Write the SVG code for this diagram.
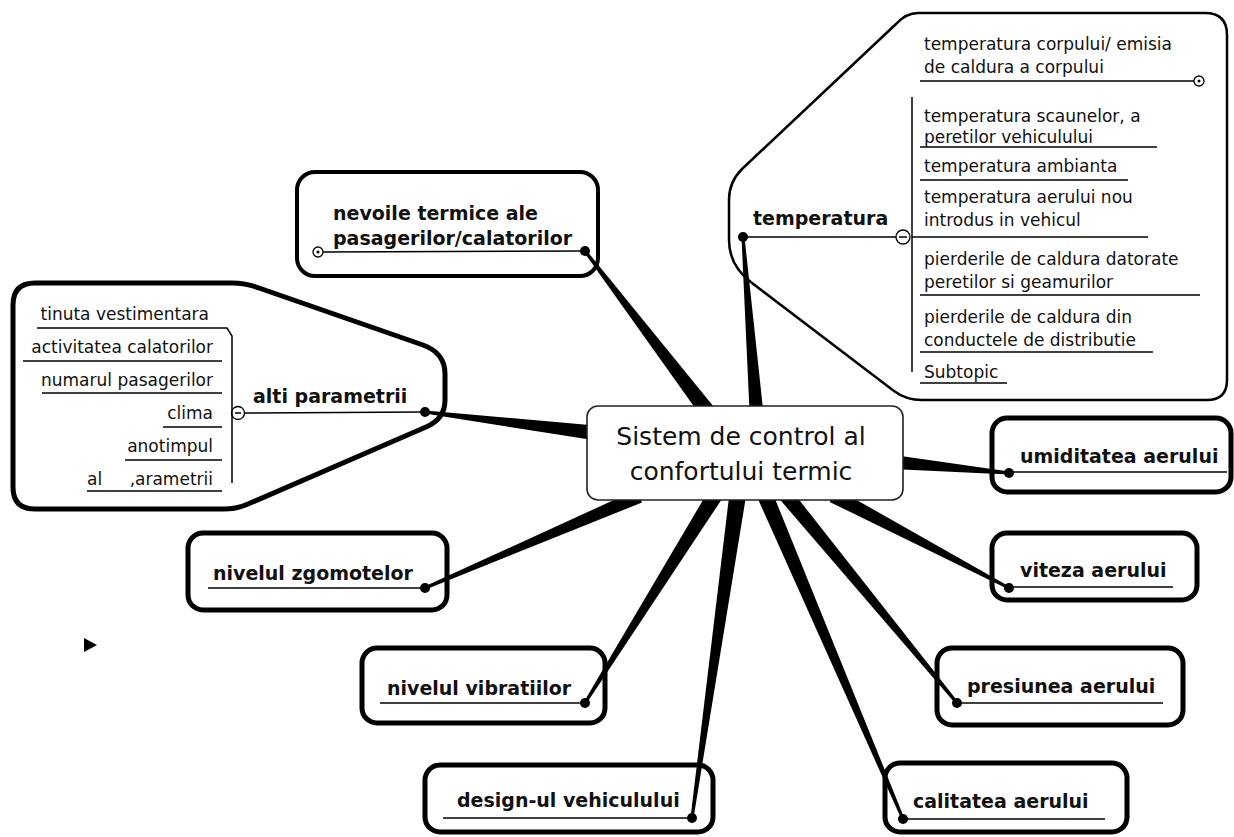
<svg xmlns="http://www.w3.org/2000/svg" width="1234" height="837" viewBox="0 0 1234 837">
<style>
.lbl{font-family:"DejaVu Sans",sans-serif;font-weight:bold;font-size:19px;fill:#111}
.sub{font-family:"DejaVu Sans",sans-serif;font-size:17px;fill:#111}
.ctr{font-family:"DejaVu Sans",sans-serif;font-size:25px;fill:#111;text-anchor:middle}
.box{fill:none;stroke:#000;stroke-width:5}
.thin{fill:none;stroke:#000;stroke-width:2.5}
.ul{stroke:#000;stroke-width:1.5;fill:none}
.wedge{fill:#000}
.dot{fill:#000}
.tog{fill:#fff;stroke:#000;stroke-width:1.3}
</style>
<rect width="1234" height="837" fill="#fff"/>

<g id="connectors">
<polygon class="wedge" points="716.4,410.1 586.2,250.1 583.8,251.9 703.6,419.9"/>
<polygon class="wedge" points="763.8,416.5 744.5,236.9 741.5,237.1 749.8,417.5"/>
<polygon class="wedge" points="597.8,425.8 425.2,410.5 424.8,413.5 596.0,440.6"/>
<polygon class="wedge" points="892.3,469.1 1008.9,474.5 1009.1,471.5 893.7,455.1"/>
<polygon class="wedge" points="829.7,501.9 1008.3,589.3 1009.7,586.7 836.7,488.7"/>
<polygon class="wedge" points="777.8,497.1 955.8,704.0 958.2,702.0 789.4,487.5"/>
<polygon class="wedge" points="755.7,493.9 901.6,819.6 904.4,818.4 770.5,487.7"/>
<polygon class="wedge" points="730,488.9 690.5,817.8 693.5,818.2 746.8,491.3"/>
<polygon class="wedge" points="710.5,487.3 583.7,702.2 586.3,703.8 724.1,495.7"/>
<polygon class="wedge" points="636.4,489.7 424.4,586.6 425.6,589.4 642,502.5"/>
<circle class="dot" cx="585" cy="251" r="5"/>
<circle class="dot" cx="743" cy="237" r="5"/>
<circle class="dot" cx="425" cy="412" r="5"/>
<circle class="dot" cx="1009" cy="473" r="5"/>
<circle class="dot" cx="1009" cy="588" r="5"/>
<circle class="dot" cx="957" cy="703" r="5"/>
<circle class="dot" cx="903" cy="819" r="5"/>
<circle class="dot" cx="692" cy="818" r="5"/>
<circle class="dot" cx="585" cy="703" r="5"/>
<circle class="dot" cx="425" cy="588" r="5"/>
</g>

<g id="center">
<rect x="587" y="406" width="316" height="94" rx="11" fill="#fff" stroke="#222" stroke-width="1.6"/>
<text class="ctr" x="741" y="445">Sistem de control al</text>
<text class="ctr" x="741" y="480">confortului termic</text>
</g>

<g id="node-nevoile">
<rect x="297" y="172" width="301" height="104" rx="18" fill="none" stroke="#000" stroke-width="4"/>
<text class="lbl" x="333" y="220">nevoile termice ale</text>
<text class="lbl" x="333" y="245">pasagerilor/calatorilor</text>
<line class="ul" x1="323" y1="252" x2="585" y2="251"/>
<circle class="tog" cx="318" cy="252" r="5"/>
<circle class="dot" cx="318" cy="252" r="1.5"/>
</g>

<g id="node-temperatura">
<path class="thin" d="M918,13 L1205,13 Q1227,13 1227,35 L1227,380 Q1227,400 1207,400 L922,400 Q906,400 894,391 L752,283 Q729,266 729,240 L729,200 Q729,182 742,169 L896,24 Q906,13 918,13 Z"/>
<text class="lbl" x="753" y="225">temperatura</text>
<line class="ul" x1="743" y1="237" x2="896" y2="237"/>
<circle class="tog" cx="903" cy="237" r="7"/>
<line class="ul" x1="899" y1="237" x2="907" y2="237"/>
<line class="ul" x1="912" y1="97" x2="912" y2="372"/>
<text class="sub" x="924" y="50">temperatura corpului/ emisia</text>
<text class="sub" x="924" y="73">de caldura a corpului</text>
<line class="ul" x1="920" y1="81" x2="1194" y2="81"/>
<circle class="tog" cx="1199" cy="81" r="5"/>
<circle class="dot" cx="1199" cy="81" r="1.5"/>
<text class="sub" x="924" y="122">temperatura scaunelor, a</text>
<text class="sub" x="924" y="143">peretilor vehiculului</text>
<line class="ul" x1="920" y1="147" x2="1157" y2="147"/>
<text class="sub" x="924" y="172">temperatura ambianta</text>
<line class="ul" x1="920" y1="180" x2="1128" y2="180"/>
<text class="sub" x="924" y="203">temperatura aerului nou</text>
<text class="sub" x="924" y="226">introdus in vehicul</text>
<line class="ul" x1="912" y1="237" x2="1148" y2="237"/>
<text class="sub" x="924" y="265">pierderile de caldura datorate</text>
<text class="sub" x="924" y="288">peretilor si geamurilor</text>
<line class="ul" x1="920" y1="295" x2="1200" y2="295"/>
<text class="sub" x="924" y="323">pierderile de caldura din</text>
<text class="sub" x="924" y="346">conductele de distributie</text>
<line class="ul" x1="920" y1="352" x2="1153" y2="352"/>
<text class="sub" x="924" y="378">Subtopic</text>
<line class="ul" x1="920" y1="383" x2="1007" y2="383"/>
</g>

<g id="node-alti">
<path class="box" d="M35,283 L232,283 Q246,283 259,288 L423,345 Q445,353 445,374 L445,400 Q445,419 426,427 L248,504 Q237,509 224,509 L35,509 Q13,509 13,487 L13,305 Q13,283 35,283 Z"/>
<text class="lbl" x="253" y="403">alti parametrii</text>
<line class="ul" x1="244" y1="413" x2="425" y2="412"/>
<circle class="tog" cx="238" cy="413" r="6.5"/>
<line class="ul" x1="235" y1="413" x2="241" y2="413"/>
<polyline class="ul" points="37,328 227,328 232,336 232,483"/>
<text class="sub" x="209" y="320" text-anchor="end">tinuta vestimentara</text>
<text class="sub" x="213" y="353" text-anchor="end">activitatea calatorilor</text>
<line class="ul" x1="23" y1="361" x2="222" y2="361"/>
<text class="sub" x="213" y="386" text-anchor="end">numarul pasagerilor</text>
<line class="ul" x1="42" y1="393" x2="222" y2="393"/>
<text class="sub" x="213" y="419" text-anchor="end">clima</text>
<line class="ul" x1="163" y1="427" x2="222" y2="427"/>
<text class="sub" x="213" y="452" text-anchor="end">anotimpul</text>
<line class="ul" x1="125" y1="460" x2="222" y2="460"/>
<text class="sub" x="87" y="485">al</text>
<text class="sub" x="213" y="485" text-anchor="end">,arametrii</text>
<line class="ul" x1="87" y1="491" x2="222" y2="491"/>
</g>

<g id="node-umiditatea">
<rect class="box" x="992" y="418" width="239" height="74" rx="15"/>
<text class="lbl" x="1020" y="463">umiditatea aerului</text>
<line class="ul" x1="1009" y1="472" x2="1227" y2="472"/>
</g>

<g id="node-viteza">
<rect class="box" x="992" y="533" width="205" height="67" rx="15"/>
<text class="lbl" x="1020" y="577">viteza aerului</text>
<line class="ul" x1="1009" y1="587" x2="1173" y2="587"/>
</g>

<g id="node-presiunea">
<rect class="box" x="937" y="648" width="246" height="77" rx="15"/>
<text class="lbl" x="967" y="693">presiunea aerului</text>
<line class="ul" x1="957" y1="703" x2="1163" y2="703"/>
</g>

<g id="node-calitatea">
<rect class="box" x="885" y="763" width="242" height="69" rx="15"/>
<text class="lbl" x="913" y="808">calitatea aerului</text>
<line class="ul" x1="903" y1="819" x2="1105" y2="819"/>
</g>

<g id="node-design">
<rect class="box" x="425" y="765" width="288" height="67" rx="15"/>
<text class="lbl" x="457" y="807">design-ul vehiculului</text>
<line class="ul" x1="443" y1="818" x2="692" y2="818"/>
</g>

<g id="node-vibratii">
<rect class="box" x="362" y="648" width="243" height="75" rx="15"/>
<text class="lbl" x="387" y="695">nivelul vibratiilor</text>
<line class="ul" x1="380" y1="703" x2="585" y2="703"/>
</g>

<g id="node-zgomote">
<rect class="box" x="188" y="533" width="259" height="77" rx="15"/>
<text class="lbl" x="213" y="580">nivelul zgomotelor</text>
<line class="ul" x1="208" y1="588" x2="425" y2="588"/>
</g>

<polygon points="84,638 97,645 84,652" fill="#000"/>
</svg>
